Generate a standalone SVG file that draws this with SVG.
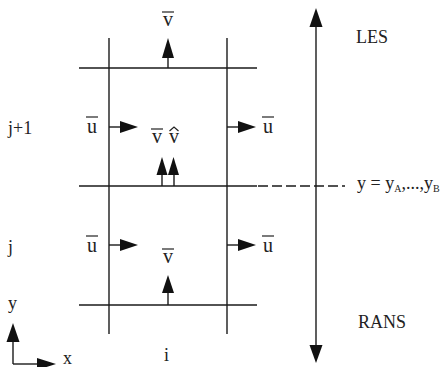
<svg xmlns="http://www.w3.org/2000/svg" width="445" height="367" viewBox="0 0 445 367">
<style>
.ln{stroke:#1a1a1a;stroke-width:1.4;fill:none}
.hd{fill:#111;stroke:none}
.t{font-family:"Liberation Serif","Times New Roman",serif;fill:#222;font-size:18px}
.var{font-family:"Liberation Serif","Times New Roman",serif;fill:#222;font-size:20px;text-anchor:middle}
.bar{stroke:#222;stroke-width:1.2;fill:none}
</style>
<rect width="445" height="367" fill="#fff"/>
<g id="grid">
<line class="ln" x1="109" y1="38" x2="109" y2="334"/>
<line class="ln" x1="227" y1="38" x2="227" y2="334"/>
<line class="ln" x1="79" y1="68" x2="257" y2="68"/>
<line class="ln" x1="79" y1="186" x2="257" y2="186"/>
<line class="ln" x1="79" y1="305" x2="257" y2="305"/>
<line class="ln" x1="258" y1="186" x2="345" y2="186" stroke-dasharray="10 4"/>
</g>
<g id="connectors">
<line class="ln" x1="168" y1="56" x2="168" y2="68"/>
<polygon class="hd" points="168,38 174,58 162,58"/>
<line class="ln" x1="162" y1="173" x2="162" y2="186"/>
<polygon class="hd" points="162,157 167.5,175 156.5,175"/>
<line class="ln" x1="174" y1="173" x2="174" y2="186"/>
<polygon class="hd" points="173.5,157 179,175 168,175"/>
<line class="ln" x1="168" y1="291" x2="168" y2="305"/>
<polygon class="hd" points="168,275 174,293 162,293"/>
<line class="ln" x1="109" y1="127" x2="122" y2="127"/>
<polygon class="hd" points="138,127 120,121 120,133"/>
<line class="ln" x1="227" y1="127" x2="240" y2="127"/>
<polygon class="hd" points="256,127 238,121 238,133"/>
<line class="ln" x1="109" y1="245" x2="122" y2="245"/>
<polygon class="hd" points="138,245 120,239 120,251"/>
<line class="ln" x1="227" y1="245" x2="240" y2="245"/>
<polygon class="hd" points="256,245 238,239 238,251"/>
<line class="ln" x1="316" y1="25" x2="316" y2="347"/>
<polygon class="hd" points="316,8 322.5,27 309.5,27"/>
<polygon class="hd" points="316,363 322.5,345 309.5,345"/>
<line class="ln" x1="13" y1="340" x2="13" y2="364"/>
<polygon class="hd" points="13,323 19.5,342 6.5,342"/>
<line class="ln" x1="13" y1="364" x2="39" y2="364"/>
<polygon class="hd" points="56,364 37,358 37,370"/>
</g>
<g id="labels">
<text class="var" x="168" y="26">v</text>
<line class="bar" x1="162" y1="12" x2="174" y2="12"/>
<text class="var" x="157" y="143">v</text>
<line class="bar" x1="151" y1="129" x2="163" y2="129"/>
<text class="var" x="174" y="143">v</text>
<path class="bar" d="M169.5,131 L174,127 L178.5,131"/>
<text class="var" x="168" y="263">v</text>
<line class="bar" x1="162" y1="249" x2="174" y2="249"/>
<text class="var" x="92" y="133">u</text>
<line class="bar" x1="86" y1="117" x2="98" y2="117"/>
<text class="var" x="268" y="133">u</text>
<line class="bar" x1="262" y1="117" x2="274" y2="117"/>
<text class="var" x="92" y="252">u</text>
<line class="bar" x1="86" y1="236" x2="98" y2="236"/>
<text class="var" x="268" y="252">u</text>
<line class="bar" x1="262" y1="236" x2="274" y2="236"/>
<text class="t" x="8" y="134">j+1</text>
<text class="t" x="8" y="253">j</text>
<text class="t" x="8" y="309">y</text>
<text class="t" x="63" y="364" font-size="17">x</text>
<text class="t" x="164" y="361">i</text>
<text class="t" x="356" y="43">LES</text>
<text class="t" x="358" y="328">RANS</text>
<text class="t" x="357" y="189">y = y<tspan font-size="10" dy="3">A</tspan><tspan dy="-3">,...,y</tspan><tspan font-size="10" dy="3">B</tspan></text>
</g>
</svg>
